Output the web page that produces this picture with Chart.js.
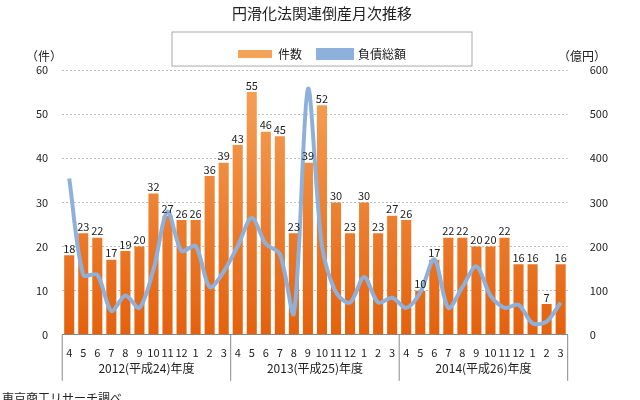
<!DOCTYPE html>
<html>
<head>
<meta charset="utf-8">
<script src="https://cdn.jsdelivr.net/npm/chart.js@4/dist/chart.umd.min.js"></script>
<style>
body { margin: 0; background: #fff; }
#wrap { width: 640px; height: 400px; position: relative; }
</style>
</head>
<body>
<div id="wrap"><canvas id="c" width="640" height="400"></canvas></div>
<script>
const months = ['4','5','6','7','8','9','10','11','12','1','2','3',
                '4','5','6','7','8','9','10','11','12','1','2','3',
                '4','5','6','7','8','9','10','11','12','1','2','3'];
const fiscalYears = ['2012(平成24)年度', '2013(平成25)年度', '2014(平成26)年度'];
const counts = [18,23,22,17,19,20,32,27,26,26,36,39,
                43,55,46,45,23,39,52,30,23,30,23,27,
                26,10,17,22,22,20,20,22,16,16,7,16];
const debts = [354,136,136,54,89,61,148,279,190,201,108,143,
               201,265,206,183,49,557,201,96,73,131,73,84,
               61,96,171,61,108,155,89,61,68,26,30,73];

const font = '"Noto Sans CJK JP", sans-serif';

// numbers above the bars + fiscal-year row under the month labels
const extras = {
    id: 'extras',
    afterDatasetsDraw(chart) {
        const ctx = chart.ctx;
        const meta = chart.getDatasetMeta(1);
        ctx.save();
        ctx.fillStyle = '#222';
        ctx.font = '11px ' + font;
        ctx.textAlign = 'center';
        ctx.textBaseline = 'bottom';
        meta.data.forEach((bar, i) => {
            ctx.fillText(counts[i], bar.x, bar.y - 1);
        });
        ctx.restore();
    },
    afterDraw(chart) {
        const ctx = chart.ctx;
        const x = chart.scales.x;
        const area = chart.chartArea;
        const half = (x.getPixelForValue(1) - x.getPixelForValue(0)) / 2;
        ctx.save();
        ctx.strokeStyle = '#888';
        ctx.lineWidth = 1;
        ctx.font = '12px ' + font;
        ctx.fillStyle = '#222';
        ctx.textAlign = 'center';
        for (let g = 0; g <= 3; g++) {
            const px = g < 3 ? x.getPixelForValue(g * 12) - half : x.getPixelForValue(35) + half;
            ctx.beginPath();
            ctx.moveTo(px, area.bottom);
            ctx.lineTo(px, area.bottom + 46);
            ctx.stroke();
        }
        fiscalYears.forEach((label, g) => {
            const cx = (x.getPixelForValue(g * 12) + x.getPixelForValue(g * 12 + 11)) / 2;
            ctx.fillText(label, cx, area.bottom + 34);
        });
        // legend frame
        const lg = chart.legend;
        ctx.strokeStyle = '#aaa';
        ctx.strokeRect(lg.left + 150, lg.top, lg.width - 300, lg.height - 4);
        ctx.restore();
    }
};

const c = document.getElementById('c');
const g = c.getContext('2d');
const grad = g.createLinearGradient(0, 75, 0, 331);
grad.addColorStop(0, '#f6a35a');
grad.addColorStop(1, '#e4620e');

new Chart(c, {
    type: 'bar',
    data: {
        labels: months,
        datasets: [{
            type: 'line',
            label: '負債総額',
            data: debts,
            yAxisID: 'y2',
            borderColor: '#8eb1dc',
            backgroundColor: '#8eb1dc',
            borderWidth: 4,
            pointRadius: 0,
            tension: 0.3,
            order: 0
        }, {
            label: '件数',
            data: counts,
            yAxisID: 'y',
            backgroundColor: grad,
            borderColor: '#d9600f',
            borderWidth: 0,
            categoryPercentage: 0.92,
            barPercentage: 0.78,
            order: 1
        }]
    },
    options: {
        responsive: false,
        animation: false,
        layout: { padding: { left: 22, right: 18, top: 0, bottom: 38 } },
        plugins: {
            title: {
                display: true,
                text: '円滑化法関連倒産月次推移',
                font: { family: font, size: 15, weight: 'normal' },
                color: '#222',
                padding: { top: 4, bottom: 10 }
            },
            legend: {
                display: true,
                reverse: true,
                labels: {
                    font: { family: font, size: 12 },
                    color: '#222',
                    boxWidth: 34,
                    boxHeight: 8,
                    padding: 16
                }
            },
            tooltip: { enabled: false }
        },
        scales: {
            x: {
                grid: { display: false },
                border: { color: '#888' },
                ticks: { font: { family: font, size: 11 }, color: '#222', autoSkip: false, maxRotation: 0 }
            },
            y: {
                position: 'left',
                min: 0, max: 60,
                ticks: { stepSize: 10, font: { family: font, size: 11 }, color: '#222', padding: 14 },
                grid: { color: '#bbb', tickLength: 0 },
                border: { display: false, dash: [2, 2] }
            },
            y2: {
                position: 'right',
                min: 0, max: 600,
                ticks: { stepSize: 100, font: { family: font, size: 11 }, color: '#222', padding: 14 },
                grid: { display: false },
                border: { display: false }
            }
        }
    },
    plugins: [extras, {
        id: 'units',
        afterDraw(chart) {
            const ctx = chart.ctx;
            const area = chart.chartArea;
            ctx.save();
            ctx.font = '12px ' + font;
            ctx.fillStyle = '#222';
            ctx.textAlign = 'left';
            ctx.fillText('（件）', 26, 56);
            ctx.textAlign = 'right';
            ctx.fillText('（億円）', 606, 56);
            ctx.textAlign = 'left';
            ctx.fillText('東京商工リサーチ調べ', 2, 398);
            ctx.restore();
        }
    }]
});
</script>
</body>
</html>
